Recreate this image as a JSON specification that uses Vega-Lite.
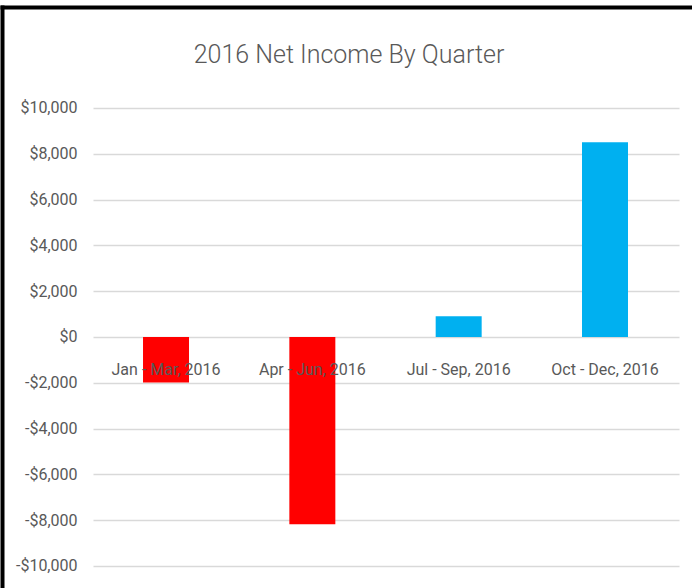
{
  "$schema": "https://vega.github.io/schema/vega-lite/v6.json",
  "width": 688,
  "height": 581,
  "autosize": "none",
  "padding": {"left": 2, "top": 7, "right": 2, "bottom": 0},
  "background": "#ffffff",
  "title": {
    "text": "2016 Net Income By Quarter",
    "font": "Roboto, sans-serif",
    "fontSize": 25,
    "fontWeight": 300,
    "color": "#595959",
    "anchor": "middle",
    "baseline": "alphabetic",
    "offset": 0,
    "dy": 81,
    "dx": 3
  },
  "data": {
    "values": [
      {"quarter": "Jan - Mar, 2016", "income": -1990},
      {"quarter": "Apr - Jun, 2016", "income": -8180},
      {"quarter": "Jul - Sep, 2016", "income": 910},
      {"quarter": "Oct - Dec, 2016", "income": 8500}
    ]
  },
  "encoding": {
    "x": {
      "field": "quarter",
      "type": "nominal",
      "sort": null,
      "scale": {"paddingInner": 0.6857, "paddingOuter": 0.6937, "align": 0.6946}
    },
    "y": {
      "field": "income",
      "type": "quantitative",
      "scale": {"domain": [-10961, 14410], "nice": false, "zero": false}
    },
    "y2": {"datum": 0}
  },
  "layer": [
    {
      "mark": {"type": "bar"},
      "encoding": {
        "x": {
          "field": "quarter",
          "type": "nominal",
          "sort": null,
          "axis": {
            "title": null,
            "orient": "bottom",
            "offset": -251,
            "domain": false,
            "ticks": false,
            "tickSize": 0,
            "labelPadding": 37,
            "labelBaseline": "alphabetic",
            "labelAngle": 0,
            "labelFont": "Roboto, sans-serif",
            "labelFontSize": 16,
            "labelColor": "#595959",
            "grid": false,
            "zindex": 2
          }
        },
        "y": {
          "field": "income",
          "type": "quantitative",
          "axis": {
            "title": null,
            "orient": "left",
            "values": [-10000, -8000, -6000, -4000, -2000, 0, 2000, 4000, 6000, 8000, 10000],
            "offset": -75,
            "domain": false,
            "ticks": false,
            "tickSize": 0,
            "labelPadding": 0,
            "labelAlign": "right",
            "labelBaseline": "middle",
            "labelFont": "Roboto, sans-serif",
            "labelFontSize": 16,
            "labelColor": "#595959",
            "labelExpr": "datum.value < 0 ? '-$' + format(-datum.value, ',') : '$' + format(datum.value, ',')",
            "grid": true,
            "gridColor": "#d9d9d9",
            "gridWidth": 1.6,
            "gridDash": [0, 91, 586, 100],
            "zindex": 0
          }
        },
        "color": {
          "condition": {"test": "datum.income < 0", "value": "#FF0000"},
          "value": "#00B0F0"
        }
      }
    },
    {
      "mark": {"type": "bar", "opacity": 0},
      "encoding": {
        "x": {
          "field": "quarter",
          "type": "nominal",
          "sort": null,
          "axis": {
            "title": null,
            "orient": "top",
            "domain": true,
            "domainColor": "#000000",
            "domainWidth": 4,
            "domainCap": "square",
            "ticks": false,
            "labels": false,
            "grid": false,
            "zindex": 3
          }
        },
        "y": {
          "field": "income",
          "type": "quantitative",
          "axis": {
            "title": null,
            "orient": "left",
            "domain": true,
            "domainColor": "#000000",
            "domainWidth": 4,
            "domainCap": "square",
            "ticks": false,
            "labels": false,
            "grid": false,
            "zindex": 3
          }
        }
      }
    }
  ],
  "resolve": {"axis": {"x": "independent", "y": "independent"}},
  "config": {
    "view": {"stroke": null}
  }
}
